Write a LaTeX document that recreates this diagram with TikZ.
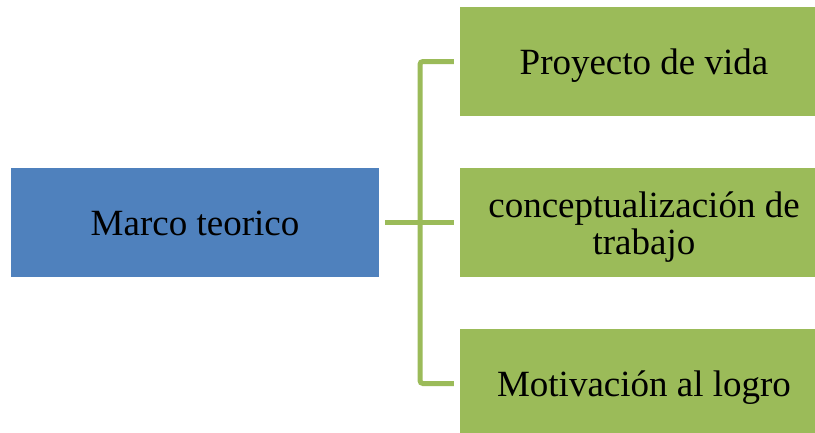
\documentclass[tikz,border=0pt]{standalone}
\usepackage{fontspec}
\setmainfont{Liberation Serif}
\definecolor{boxblue}{HTML}{4F81BD}
\definecolor{boxgreen}{HTML}{9BBB59}
\begin{document}
\begin{tikzpicture}[x=1pt,y=-1pt,
  box/.style={rectangle, draw=none, minimum width=368pt, minimum height=109pt,
    inner sep=0pt, align=center, text=black, text height=34pt, text depth=8pt,
    font=\fontsize{37}{37}\selectfont},
  bluebox/.style={box, fill=boxblue},
  greenbox/.style={box, fill=boxgreen},
  conn/.style={draw=boxgreen, line width=5pt}]
\useasboundingbox (0,0) rectangle (815,432);
\fill[white] (0,0) rectangle (815,432);
\node[bluebox] (m) at (195,222.5) {Marco teorico};
\node[greenbox] (g1) at (644,61.5) {Proyecto de vida};
\node[greenbox, text height=71pt] (g2) at (644,222.5) {conceptualización de\\trabajo};
\node[greenbox] (g3) at (644,383.5) {Motivación al logro};
\coordinate (j) at (420,222.5);
\draw[conn, shorten <=6pt] (m.east) -- (j);
\draw[conn, shorten >=6pt] (j) -- (g2.west);
\draw[conn, rounded corners=3pt, shorten >=6pt] (j) |- (g1.west);
\draw[conn, rounded corners=3pt, shorten >=6pt] (j) |- (g3.west);
\end{tikzpicture}
\end{document}
